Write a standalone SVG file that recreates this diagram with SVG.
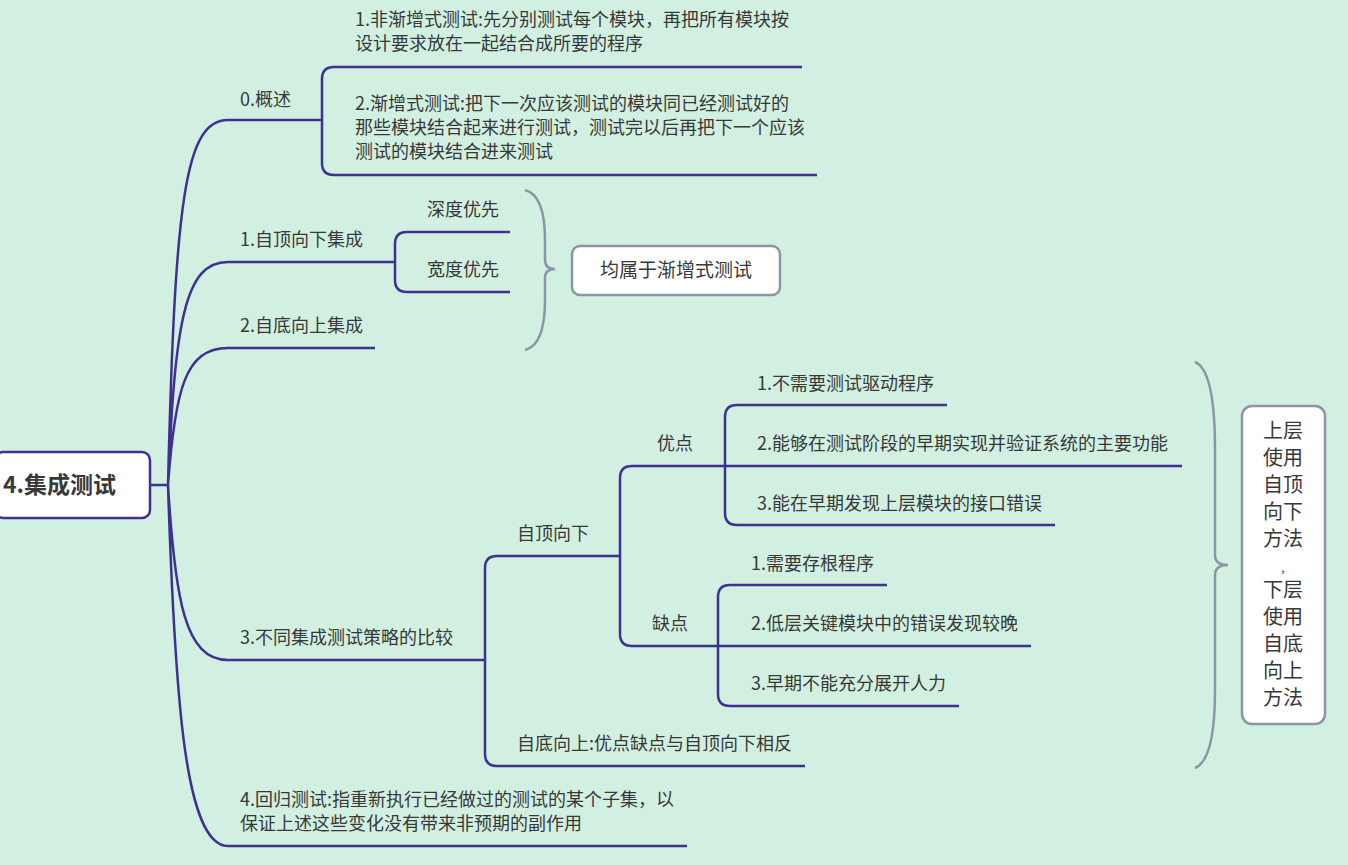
<svg xmlns="http://www.w3.org/2000/svg" width="1348" height="865" viewBox="0 0 1348 865">
<style>
.t{font-family:"Noto Sans CJK SC","Liberation Sans",sans-serif;font-size:18px;fill:#383838}
.l{fill:none;stroke:#3f3192;stroke-width:2.5}
.g{fill:none;stroke:#8a96a6;stroke-width:2.5}
</style>
<rect width="1348" height="865" fill="#d1f0e1"/>
<g id="connectors">
<path class="l" d="M150,485 L168,485"/>
<path class="l" d="M168,485 C175,200 185,120 228,120 M168,485 C175,320 185,262 228,262 M168,485 C175,390 185,348 228,348 M168,485 C175,600 185,660 228,660 M168,485 C175,700 185,846 228,846"/>
<path class="l" d="M228,120 L322,120 M228,262 L395,262 M228,348 L375,348 M228,660 L485,660 M228,846 L687,846"/>
<path class="l" d="M322,120 L322,79 Q322,67 334,67 L802,67 M322,120 L322,163 Q322,175 334,175 L817,175"/>
<path class="l" d="M395,262 L395,244 Q395,232 407,232 L510,232 M395,262 L395,280 Q395,292 407,292 L510,292"/>
<path class="l" d="M485,660 L485,568 Q485,556 497,556 L620,556 M485,660 L485,754 Q485,766 497,766 L805,766"/>
<path class="l" d="M620,556 L620,478 Q620,466 632,466 L725,466 M620,556 L620,634 Q620,646 632,646 L718,646"/>
<path class="l" d="M725,466 L725,417 Q725,405 737,405 L947,405 M725,466 L1182,466 M725,466 L725,513 Q725,525 737,525 L1055,525"/>
<path class="l" d="M718,646 L718,597 Q718,585 730,585 L887,585 M718,646 L1031,646 M718,646 L718,694 Q718,706 730,706 L959,706"/>
<path class="g" d="M525,190 Q545,195 545,240 L545,260 Q545,269 555,269 Q545,269 545,278 L545,300 Q545,345 525,350"/>
<path class="g" d="M1195,362 Q1215,370 1215,450 L1215,555 Q1215,565 1228,565 Q1215,565 1215,575 L1215,690 Q1215,760 1195,768"/>
</g>
<g id="root"><rect x="-5" y="452" width="155" height="66" rx="8" fill="#fff" stroke="#3f3192" stroke-width="2.5"/><text x="3" y="493" class="t" style="font-size:23px;font-weight:bold">4.集成测试</text></g>
<g id="n0"><text x="240" y="106" class="t">0.概述</text></g>
<g id="n01"><text x="355" y="26" class="t">1.非渐增式测试:先分别测试每个模块，再把所有模块按</text><text x="355" y="50" class="t">设计要求放在一起结合成所要的程序</text></g>
<g id="n02"><text x="355" y="110" class="t">2.渐增式测试:把下一次应该测试的模块同已经测试好的</text><text x="355" y="134" class="t">那些模块结合起来进行测试，测试完以后再把下一个应该</text><text x="355" y="158" class="t">测试的模块结合进来测试</text></g>
<g id="n1"><text x="240" y="246" class="t">1.自顶向下集成</text></g>
<g id="n11"><text x="427" y="216" class="t">深度优先</text></g>
<g id="n12"><text x="427" y="276" class="t">宽度优先</text></g>
<g id="n2"><text x="240" y="332" class="t">2.自底向上集成</text></g>
<g id="s1"><rect x="572" y="246" width="208" height="49" rx="8" fill="#fff" stroke="#8a96a6" stroke-width="2.5"/><text x="676" y="277" class="t" text-anchor="middle" style="font-size:19px">均属于渐增式测试</text></g>
<g id="n3"><text x="240" y="644" class="t">3.不同集成测试策略的比较</text></g>
<g id="n31"><text x="517" y="540" class="t">自顶向下</text></g>
<g id="n32"><text x="517" y="750" class="t">自底向上:优点缺点与自顶向下相反</text></g>
<g id="n311"><text x="657" y="450" class="t">优点</text></g>
<g id="n312"><text x="652" y="630" class="t">缺点</text></g>
<g id="a1"><text x="757" y="390" class="t">1.不需要测试驱动程序</text></g>
<g id="a2"><text x="757" y="450" class="t">2.能够在测试阶段的早期实现并验证系统的主要功能</text></g>
<g id="a3"><text x="757" y="510" class="t">3.能在早期发现上层模块的接口错误</text></g>
<g id="b1"><text x="751" y="570" class="t">1.需要存根程序</text></g>
<g id="b2"><text x="751" y="630" class="t">2.低层关键模块中的错误发现较晚</text></g>
<g id="b3"><text x="751" y="690" class="t">3.早期不能充分展开人力</text></g>
<g id="n4"><text x="240" y="806" class="t">4.回归测试:指重新执行已经做过的测试的某个子集，以</text><text x="240" y="830" class="t">保证上述这些变化没有带来非预期的副作用</text></g>
<g id="s2"><rect x="1242" y="406" width="83" height="318" rx="10" fill="#fff" stroke="#8a96a6" stroke-width="2.5"/>
<g class="t" style="font-size:20px" text-anchor="middle"><text x="1283" y="438">上层</text><text x="1283" y="465">使用</text><text x="1283" y="492">自顶</text><text x="1283" y="519">向下</text><text x="1283" y="546">方法</text><text x="1283" y="572" style="font-size:12px">,</text><text x="1283" y="597">下层</text><text x="1283" y="624">使用</text><text x="1283" y="651">自底</text><text x="1283" y="678">向上</text><text x="1283" y="705">方法</text></g></g>
</svg>
